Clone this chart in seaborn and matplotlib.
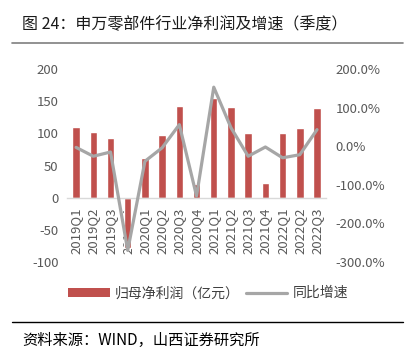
import matplotlib
matplotlib.use("Agg")
import matplotlib.pyplot as plt
import matplotlib.ticker as mticker
from matplotlib.patches import Patch
from matplotlib.lines import Line2D
import seaborn as sns
import pandas as pd

quarters = ["2019Q1", "2019Q2", "2019Q3", "2019Q4", "2020Q1", "2020Q2", "2020Q3",
            "2020Q4", "2021Q1", "2021Q2", "2021Q3", "2021Q4", "2022Q1", "2022Q2", "2022Q3"]
profit = [110, 102, 93, -78, 61, 97, 143, 22, 155, 141, 100, 23, 101, 108, 140]
growth = [-3, -26, -15, -270, -39, -4, 56, -129, 153, 48, -26, -2, -30, -22, 43]

title = "图 24：申万零部件行业净利润及增速（季度）"
source = "资料来源：WIND，山西证券研究所"
bar_label = "归母净利润（亿元）"
line_label = "同比增速"

sns.set_theme(style="white")
plt.rcParams["font.family"] = ["Noto Sans CJK SC", "DejaVu Sans"]
plt.rcParams["axes.unicode_minus"] = False

df = pd.DataFrame({"quarter": quarters, "profit": profit, "growth": growth})

fig = plt.figure(figsize=(4.08, 3.47), dpi=100)
ax = fig.add_axes([0.1654, 0.245, 0.6327, 0.556])
bar_color = "#C0504D"
line_color = "#A6A6A6"
tick_color = "#595959"

sns.barplot(data=df, x="quarter", y="profit", color=bar_color, width=0.43,
            saturation=1, ax=ax)
ax.set_xlim(-0.5, len(quarters) - 0.5)
ax.set_ylim(-100, 200)
ax.yaxis.set_major_locator(mticker.MultipleLocator(50))
ax.set_xlabel("")
ax.set_ylabel("")
for s in ["top", "left", "right"]:
    ax.spines[s].set_visible(False)
ax.spines["bottom"].set_position(("data", 0))
ax.spines["bottom"].set_color("#D9D9D9")
ax.spines["bottom"].set_linewidth(1.0)
ax.tick_params(axis="x", length=0, pad=7, labelsize=9.5, labelcolor=tick_color,
               labelrotation=90)
ax.tick_params(axis="y", length=0, pad=6.5, labelsize=9.5, labelcolor=tick_color)

ax2 = ax.twinx()
x_pos = list(range(len(quarters)))
sns.lineplot(x=x_pos, y=growth, color=line_color, linewidth=2.3, ax=ax2)
ax2.set_xlim(-0.5, len(quarters) - 0.5)
ax2.set_ylim(-300, 200)
ax2.yaxis.set_major_locator(mticker.MultipleLocator(100))
ax2.yaxis.set_major_formatter(mticker.FuncFormatter(lambda v, p: f"{v:.1f}%"))
for s in ax2.spines.values():
    s.set_visible(False)
ax2.tick_params(axis="y", length=0, pad=7, labelsize=9.5, labelcolor=tick_color)
ax2.set_ylabel("")

handles = [Patch(facecolor=bar_color, edgecolor="none", label=bar_label),
           Line2D([0], [0], color=line_color, linewidth=2.3, label=line_label)]
fig.legend(handles=handles, loc="center", bbox_to_anchor=(0.51, 0.155), ncol=2,
           frameon=False, fontsize=10, handlelength=3.0, handleheight=0.6,
           columnspacing=0.4, handletextpad=0.4, labelcolor="#404040")

fig.text(0.054, 0.928, title, fontsize=11.5, color="#1a1a1a", va="center", ha="left")
fig.add_artist(Line2D([12 / 408, 403 / 408], [1 - 43 / 347, 1 - 43 / 347],
                      color="#7f7f7f", linewidth=1.2, transform=fig.transFigure))
fig.add_artist(Line2D([12 / 408, 403 / 408], [1 - 322 / 347, 1 - 322 / 347],
                      color="#000000", linewidth=1.0, transform=fig.transFigure))
fig.text(0.054, 1 - 340 / 347, source, fontsize=11, color="#000000", va="center",
         ha="left")

fig.savefig("out.png", dpi=100)
